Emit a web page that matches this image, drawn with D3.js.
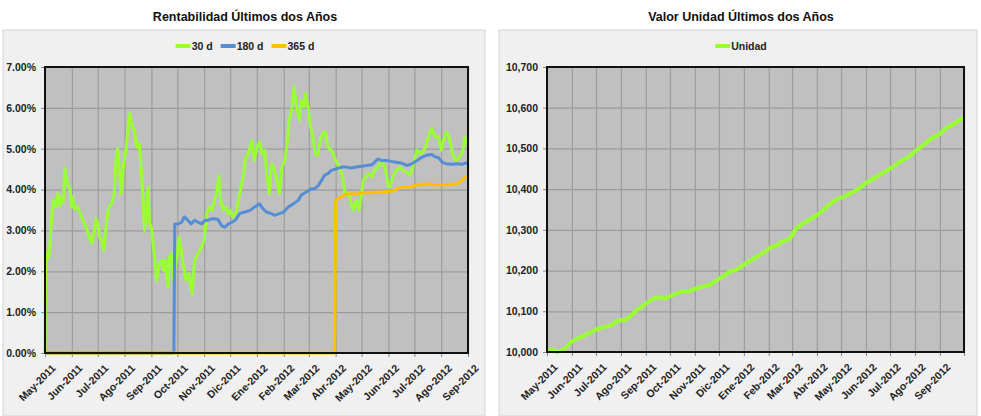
<!DOCTYPE html>
<html lang="es">
<head>
<meta charset="UTF-8">
<title>Rentabilidad y Valor Unidad</title>
<script src="https://d3js.org/d3.v7.min.js"></script>
<style>
  body { margin: 0; background: #fff; }
  text { font-family: "Liberation Sans", Arial, sans-serif; }
</style>
</head>
<body>
<script>
// ---- data ----
var tickLabels = ["May-2011", "Jun-2011", "Jul-2011", "Ago-2011", "Sep-2011", "Oct-2011", "Nov-2011",
    "Dic-2011", "Ene-2012", "Feb-2012", "Mar-2012", "Abr-2012", "May-2012", "Jun-2012",
    "Jul-2012", "Ago-2012", "Sep-2012"];

var rent30 = [
    ["2011-05-01", 0], ["2011-05-02", 2.47], ["2011-05-04", 2.30], ["2011-05-06", 2.43], ["2011-05-10", 3.74],
    ["2011-05-13", 3.57], ["2011-05-16", 3.90], ["2011-05-18", 3.60], ["2011-05-20", 3.80], ["2011-05-22", 3.70],
    ["2011-05-24", 4.51], ["2011-05-27", 4.14], ["2011-05-30", 4.02], ["2011-06-01", 3.57], ["2011-06-02", 3.82],
    ["2011-06-04", 3.53], ["2011-06-08", 3.57], ["2011-06-12", 3.33], ["2011-06-16", 3.16], ["2011-06-20", 2.92],
    ["2011-06-24", 2.68], ["2011-06-27", 3.00], ["2011-06-29", 3.29], ["2011-07-01", 3.16], ["2011-07-03", 2.84],
    ["2011-07-06", 2.72], ["2011-07-08", 2.51], ["2011-07-09", 2.76], ["2011-07-13", 3.53], ["2011-07-17", 3.65],
    ["2011-07-20", 3.90], ["2011-07-22", 4.71], ["2011-07-24", 5.00], ["2011-07-26", 4.47], ["2011-07-28", 3.90],
    ["2011-07-31", 4.63], ["2011-08-03", 5.04], ["2011-08-05", 5.53], ["2011-08-07", 5.86], ["2011-08-10", 5.53],
    ["2011-08-13", 5.41], ["2011-08-14", 5.12], ["2011-08-16", 5.04], ["2011-08-18", 5.12], ["2011-08-20", 4.55],
    ["2011-08-22", 3.90], ["2011-08-24", 3.00], ["2011-08-26", 3.41], ["2011-08-28", 4.06], ["2011-08-30", 3.16],
    ["2011-09-01", 3.08], ["2011-09-05", 2.27], ["2011-09-07", 1.78], ["2011-09-10", 2.19], ["2011-09-13", 2.27],
    ["2011-09-15", 2.02], ["2011-09-17", 2.27], ["2011-09-20", 1.62], ["2011-09-22", 2.35], ["2011-09-24", 2.43],
    ["2011-09-26", 1.78], ["2011-09-30", 2.27], ["2011-10-03", 2.84], ["2011-10-07", 2.27], ["2011-10-11", 1.78],
    ["2011-10-14", 1.94], ["2011-10-18", 1.45], ["2011-10-21", 2.27], ["2011-10-25", 2.43], ["2011-10-29", 2.60],
    ["2011-11-01", 2.76], ["2011-11-04", 3.41], ["2011-11-07", 3.57], ["2011-11-10", 3.49], ["2011-11-13", 3.74],
    ["2011-11-16", 3.98], ["2011-11-18", 4.35], ["2011-11-20", 3.74], ["2011-11-23", 3.49], ["2011-11-26", 3.57],
    ["2011-11-29", 3.41], ["2011-12-01", 3.49], ["2011-12-04", 3.33], ["2011-12-08", 3.45], ["2011-12-12", 3.90],
    ["2011-12-16", 4.31], ["2011-12-19", 4.80], ["2011-12-22", 4.88], ["2011-12-24", 5.04], ["2011-12-26", 5.20],
    ["2011-12-29", 4.71], ["2012-01-01", 5.04], ["2012-01-04", 5.16], ["2012-01-07", 4.88], ["2012-01-10", 4.96],
    ["2012-01-12", 4.47], ["2012-01-15", 3.90], ["2012-01-18", 4.63], ["2012-01-20", 4.55], ["2012-01-24", 4.23],
    ["2012-01-27", 3.90], ["2012-01-30", 4.55], ["2012-02-02", 4.71], ["2012-02-05", 5.12], ["2012-02-07", 5.69],
    ["2012-02-10", 5.94], ["2012-02-13", 6.51], ["2012-02-16", 6.02], ["2012-02-19", 5.69], ["2012-02-21", 6.18],
    ["2012-02-24", 6.02], ["2012-02-26", 6.35], ["2012-02-29", 6.02], ["2012-03-03", 5.53], ["2012-03-05", 5.37],
    ["2012-03-08", 4.88], ["2012-03-11", 4.84], ["2012-03-14", 5.20], ["2012-03-17", 5.37], ["2012-03-20", 5.41],
    ["2012-03-23", 5.04], ["2012-03-27", 4.96], ["2012-03-29", 4.88], ["2012-04-01", 4.71], ["2012-04-05", 4.55],
    ["2012-04-09", 4.31], ["2012-04-12", 3.90], ["2012-04-16", 3.90], ["2012-04-19", 3.65], ["2012-04-21", 3.49],
    ["2012-04-25", 3.74], ["2012-04-28", 3.49], ["2012-05-01", 3.90], ["2012-05-03", 4.23], ["2012-05-06", 4.31],
    ["2012-05-09", 4.39], ["2012-05-13", 4.31], ["2012-05-16", 4.47], ["2012-05-20", 4.55], ["2012-05-24", 4.71],
    ["2012-05-28", 4.55], ["2012-06-01", 4.06], ["2012-06-03", 4.06], ["2012-06-06", 4.31], ["2012-06-10", 4.47],
    ["2012-06-14", 4.55], ["2012-06-18", 4.47], ["2012-06-22", 4.43], ["2012-06-26", 4.35], ["2012-06-30", 4.63],
    ["2012-07-04", 4.96], ["2012-07-09", 4.88], ["2012-07-14", 5.04], ["2012-07-17", 5.29], ["2012-07-21", 5.50],
    ["2012-07-25", 5.29], ["2012-07-29", 5.29], ["2012-08-01", 4.96], ["2012-08-03", 5.16], ["2012-08-07", 5.41],
    ["2012-08-10", 5.29], ["2012-08-14", 4.88], ["2012-08-18", 4.71], ["2012-08-22", 4.80], ["2012-08-26", 4.92],
    ["2012-08-28", 5.29], ["2012-08-30", 5.12], ["2012-09-01", 5.20]
];

var rent180 = [
    ["2011-05-01", 0], ["2011-09-27", 0], ["2011-09-28", 3.16], ["2011-10-02", 3.16], ["2011-10-06", 3.20],
    ["2011-10-09", 3.33], ["2011-10-13", 3.25], ["2011-10-17", 3.16], ["2011-10-21", 3.25], ["2011-10-25", 3.20],
    ["2011-10-29", 3.16], ["2011-11-02", 3.25], ["2011-11-05", 3.25], ["2011-11-11", 3.29], ["2011-11-17", 3.27],
    ["2011-11-21", 3.12], ["2011-11-25", 3.08], ["2011-11-29", 3.16], ["2011-12-03", 3.20], ["2011-12-07", 3.25],
    ["2011-12-12", 3.41], ["2011-12-18", 3.45], ["2011-12-24", 3.49], ["2011-12-29", 3.57], ["2012-01-04", 3.65],
    ["2012-01-08", 3.53], ["2012-01-12", 3.45], ["2012-01-18", 3.41], ["2012-01-21", 3.37], ["2012-01-27", 3.41],
    ["2012-02-01", 3.45], ["2012-02-06", 3.57], ["2012-02-12", 3.65], ["2012-02-18", 3.74], ["2012-02-21", 3.86],
    ["2012-02-27", 3.94], ["2012-03-04", 4.02], ["2012-03-08", 4.02], ["2012-03-12", 4.10], ["2012-03-16", 4.23],
    ["2012-03-19", 4.35], ["2012-03-23", 4.39], ["2012-03-27", 4.47], ["2012-04-02", 4.51], ["2012-04-08", 4.55],
    ["2012-04-14", 4.55], ["2012-04-19", 4.53], ["2012-04-25", 4.55], ["2012-05-01", 4.57], ["2012-05-07", 4.59],
    ["2012-05-13", 4.61], ["2012-05-16", 4.67], ["2012-05-20", 4.75], ["2012-05-24", 4.71], ["2012-05-30", 4.71],
    ["2012-06-04", 4.69], ["2012-06-10", 4.67], ["2012-06-16", 4.65], ["2012-06-22", 4.59], ["2012-06-28", 4.63],
    ["2012-07-04", 4.71], ["2012-07-09", 4.78], ["2012-07-15", 4.84], ["2012-07-21", 4.86], ["2012-07-25", 4.80],
    ["2012-07-29", 4.78], ["2012-08-02", 4.67], ["2012-08-07", 4.63], ["2012-08-13", 4.62], ["2012-08-19", 4.63],
    ["2012-08-25", 4.62], ["2012-08-30", 4.65], ["2012-09-01", 4.65]
];

var rent365 = [
    ["2011-05-01", 0], ["2012-03-31", 0], ["2012-04-01", 3.75], ["2012-04-04", 3.78], ["2012-04-08", 3.83],
    ["2012-04-12", 3.88], ["2012-04-18", 3.90], ["2012-04-25", 3.90], ["2012-05-02", 3.92], ["2012-05-10", 3.93],
    ["2012-05-18", 3.94], ["2012-05-26", 3.94], ["2012-06-01", 3.95], ["2012-06-06", 3.96], ["2012-06-10", 4.00],
    ["2012-06-14", 4.05], ["2012-06-20", 4.06], ["2012-06-26", 4.06], ["2012-07-02", 4.10], ["2012-07-07", 4.13],
    ["2012-07-13", 4.13], ["2012-07-19", 4.14], ["2012-07-23", 4.12], ["2012-07-27", 4.12], ["2012-08-02", 4.12],
    ["2012-08-07", 4.12], ["2012-08-13", 4.13], ["2012-08-19", 4.14], ["2012-08-23", 4.18], ["2012-08-27", 4.27],
    ["2012-08-30", 4.31], ["2012-09-01", 4.31]
];

var unidad = [
    ["2011-05-01", 10004], ["2011-05-08", 10006], ["2011-05-14", 10000], ["2011-05-23", 10008], ["2011-05-31", 10025],
    ["2011-06-08", 10033], ["2011-06-17", 10041], ["2011-06-25", 10049], ["2011-07-03", 10057], ["2011-07-12", 10061],
    ["2011-07-20", 10066], ["2011-07-29", 10078], ["2011-08-06", 10078], ["2011-08-14", 10090], ["2011-08-20", 10102],
    ["2011-08-27", 10111], ["2011-09-01", 10119], ["2011-09-10", 10131], ["2011-09-18", 10135], ["2011-09-24", 10131],
    ["2011-10-01", 10137], ["2011-10-09", 10143], ["2011-10-17", 10150], ["2011-10-25", 10150], ["2011-11-03", 10156],
    ["2011-11-11", 10161], ["2011-11-19", 10164], ["2011-11-28", 10176], ["2011-12-06", 10186], ["2011-12-16", 10199],
    ["2011-12-22", 10201], ["2011-12-31", 10213], ["2012-01-08", 10223], ["2012-01-18", 10235], ["2012-01-27", 10246],
    ["2012-02-04", 10258], ["2012-02-12", 10262], ["2012-02-16", 10270], ["2012-02-27", 10278], ["2012-03-06", 10303],
    ["2012-03-14", 10315], ["2012-03-25", 10328], ["2012-04-04", 10340], ["2012-04-15", 10360], ["2012-04-25", 10374],
    ["2012-05-08", 10385], ["2012-05-20", 10397], ["2012-05-31", 10414], ["2012-06-12", 10428], ["2012-06-22", 10440],
    ["2012-07-03", 10453], ["2012-07-13", 10467], ["2012-07-24", 10479], ["2012-08-03", 10496], ["2012-08-11", 10508],
    ["2012-08-21", 10524], ["2012-09-01", 10536], ["2012-09-11", 10553], ["2012-09-19", 10561], ["2012-09-30", 10576]
];

var rentTicks = [0, 1, 2, 3, 4, 5, 6, 7];
var unidadTicks = [10000, 10100, 10200, 10300, 10400, 10500, 10600, 10700];

// ---- drawing ----
var parse = d3.timeParse("%Y-%m-%d");
var GREEN = "#99ff33", BLUE = "#558ed5", ORANGE = "#ffc000";

var svg = d3.select("body").append("svg")
    .attr("width", 981)
    .attr("height", 416);

function drawChart(c) {
    var g = svg.append("g");

    g.append("rect")
        .attr("x", c.panel[0]).attr("y", c.panel[1])
        .attr("width", c.panel[2]).attr("height", c.panel[3])
        .attr("fill", "#f0f0f0")
        .attr("stroke", "#d4d4d4");

    g.append("text")
        .attr("x", c.titleX).attr("y", 21)
        .attr("text-anchor", "middle")
        .attr("font-size", "12.5px")
        .attr("font-weight", "bold")
        .attr("fill", "#111")
        .text(c.title);

    var x = d3.scaleTime().domain(c.xDomain.map(parse)).range([c.left, c.right]);
    var y = d3.scaleLinear().domain(c.yDomain).range([c.bottom, c.top]);
    var months = d3.timeMonth.range(parse(c.xDomain[0]), d3.timeDay.offset(parse(c.xDomain[1]), 1));

    g.append("rect")
        .attr("x", c.left).attr("y", c.top)
        .attr("width", c.right - c.left).attr("height", c.bottom - c.top)
        .attr("fill", "#c0c0c0");

    // gridlines
    g.append("g")
        .attr("transform", "translate(0," + c.bottom + ")")
        .call(d3.axisBottom(x).tickValues(months).tickSize(-(c.bottom - c.top)).tickFormat(""))
        .call(function (s) {
            s.select(".domain").remove();
            s.selectAll("line").attr("stroke", "#9c9c9c").attr("stroke-width", 1.2);
        });
    g.append("g")
        .attr("transform", "translate(" + c.left + ",0)")
        .call(d3.axisLeft(y).tickValues(c.yTicks).tickSize(-(c.right - c.left)).tickFormat(""))
        .call(function (s) {
            s.select(".domain").remove();
            s.selectAll("line").attr("stroke", "#9c9c9c").attr("stroke-width", 1.2);
        });

    // axes with labels
    g.append("g")
        .attr("transform", "translate(0," + c.bottom + ")")
        .call(d3.axisBottom(x).tickValues(months).tickSize(4).tickPadding(2)
            .tickFormat(function (d, i) { return tickLabels[i] || ""; }))
        .call(function (s) {
            s.select(".domain").remove();
            s.selectAll("line").attr("stroke", "#888");
            s.selectAll("text")
                .attr("font-family", "Liberation Sans, Arial, sans-serif")
                .attr("font-size", "10.5px")
                .attr("font-weight", "bold")
                .attr("fill", "#222")
                .attr("text-anchor", "end")
                .attr("dy", "0.35em")
                .attr("transform", "translate(4,9) rotate(-45)");
        });
    g.append("g")
        .attr("transform", "translate(" + c.left + ",0)")
        .call(d3.axisLeft(y).tickValues(c.yTicks).tickSize(4).tickPadding(5).tickFormat(c.yFormat))
        .call(function (s) {
            s.select(".domain").remove();
            s.selectAll("line").attr("stroke", "#888");
            s.selectAll("text")
                .attr("font-family", "Liberation Sans, Arial, sans-serif")
                .attr("font-size", "10.5px")
                .attr("font-weight", "bold")
                .attr("fill", "#222");
        });

    // series
    var line = d3.line()
        .x(function (d) { return x(parse(d[0])); })
        .y(function (d) { return y(d[1]); });
    c.series.forEach(function (s) {
        g.append("path")
            .datum(s.data)
            .attr("fill", "none")
            .attr("stroke", s.color)
            .attr("stroke-width", s.width)
            .attr("stroke-linejoin", "round")
            .attr("d", line);
    });

    // plot outline
    g.append("rect")
        .attr("x", c.left).attr("y", c.top)
        .attr("width", c.right - c.left).attr("height", c.bottom - c.top)
        .attr("fill", "none")
        .attr("stroke", "#111")
        .attr("stroke-width", 2);

    // legend, centred on legendX
    var leg = g.append("g");
    var pos = 0;
    c.series.forEach(function (s) {
        leg.append("line")
            .attr("x1", pos).attr("x2", pos + 15)
            .attr("y1", 46).attr("y2", 46)
            .attr("stroke", s.color).attr("stroke-width", 4);
        var t = leg.append("text")
            .attr("x", pos + 16).attr("y", 50)
            .attr("font-size", "10.5px")
            .attr("font-weight", "bold")
            .attr("fill", "#222")
            .text(s.name);
        pos += 16 + t.node().getComputedTextLength() + 8;
    });
    var w = pos - 8;
    leg.attr("transform", "translate(" + (c.legendX - w / 2) + ",0)");
}

drawChart({
    panel: [3, 30, 482, 386],
    title: "Rentabilidad Últimos dos Años",
    titleX: 245,
    left: 45, right: 468, top: 67, bottom: 353,
    xDomain: ["2011-05-01", "2012-09-01"],
    yDomain: [0, 7],
    yTicks: rentTicks,
    yFormat: function (d) { return d3.format(".2f")(d) + "%"; },
    legendX: 245,
    series: [
        { name: "30 d", data: rent30, color: GREEN, width: 3 },
        { name: "180 d", data: rent180, color: BLUE, width: 3 },
        { name: "365 d", data: rent365, color: ORANGE, width: 3 }
    ]
});

drawChart({
    panel: [499, 30, 478, 386],
    title: "Valor Unidad Últimos dos Años",
    titleX: 741,
    left: 547, right: 964, top: 67, bottom: 352,
    xDomain: ["2011-05-01", "2012-10-01"],
    yDomain: [10000, 10700],
    yTicks: unidadTicks,
    yFormat: d3.format(","),
    legendX: 741,
    series: [
        { name: "Unidad", data: unidad, color: GREEN, width: 4 }
    ]
});
</script>
</body>
</html>
